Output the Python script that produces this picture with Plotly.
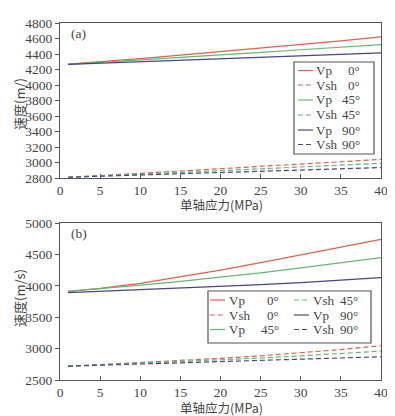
import plotly.graph_objects as go

x = [1, 5, 10, 15, 20, 25, 30, 35, 40]

# panel (a)
a_vp0 = [4270, 4300, 4340, 4385, 4430, 4475, 4525, 4570, 4620]
a_vsh0 = [2810, 2830, 2860, 2890, 2920, 2950, 2980, 3010, 3040]
a_vp45 = [4265, 4290, 4320, 4355, 4390, 4420, 4455, 4490, 4520]
a_vsh45 = [2810, 2825, 2850, 2870, 2895, 2920, 2945, 2965, 2990]
a_vp90 = [4265, 4280, 4300, 4320, 4340, 4360, 4380, 4400, 4415]
a_vsh90 = [2810, 2822, 2837, 2853, 2870, 2887, 2903, 2920, 2935]

# panel (b)
b_vp0 = [3910, 3960, 4040, 4140, 4250, 4370, 4490, 4610, 4740]
b_vsh0 = [2720, 2745, 2775, 2810, 2845, 2885, 2930, 2985, 3045]
b_vp45 = [3910, 3950, 4010, 4070, 4135, 4205, 4285, 4365, 4450]
b_vsh45 = [2720, 2740, 2765, 2790, 2820, 2850, 2885, 2920, 2960]
b_vp90 = [3890, 3910, 3935, 3960, 3990, 4020, 4050, 4090, 4130]
b_vsh90 = [2720, 2735, 2750, 2770, 2790, 2810, 2830, 2850, 2870]

wave = ["Vp", "Vsh", "Vp", "Vsh", "Vp", "Vsh"]
angle = ["0°", "0°", "45°", "45°", "90°", "90°"]
x_ticks = [0, 5, 10, 15, 20, 25, 30, 35, 40]

RED = "#e0604a"
GREEN = "#62b872"
BLUE = "#454588"
colors = [RED, RED, GREEN, GREEN, BLUE, BLUE]
DASH = "5px,3px"
dashes = ["solid", DASH] * 3
LW = 1.2

SERIF = "Liberation Serif"
CJK = "Noto Sans CJK SC"
AXC = "#555555"
TXT = "#444444"

# the page body has an 8px margin; size the figure to the remaining window
OFF = 8
W, H = 395 - OFF, 416 - OFF


def px(v):
    return (v - OFF) / W


def py(v):
    return 1 - (v - OFF) / H


fig = go.Figure()

a_data = [a_vp0, a_vsh0, a_vp45, a_vsh45, a_vp90, a_vsh90]
b_data = [b_vp0, b_vsh0, b_vp45, b_vsh45, b_vp90, b_vsh90]

for i, y in enumerate(a_data):
    fig.add_trace(go.Scatter(x=x, y=y, mode="lines", name=wave[i] + " " + angle[i],
                             line=dict(color=colors[i], dash=dashes[i], width=LW),
                             xaxis="x", yaxis="y", showlegend=False))
for i, y in enumerate(b_data):
    fig.add_trace(go.Scatter(x=x, y=y, mode="lines", name=wave[i] + " " + angle[i],
                             line=dict(color=colors[i], dash=dashes[i], width=LW),
                             xaxis="x2", yaxis="y2", showlegend=False))

xd = [px(60), px(381)]
ya = [py(178), py(23)]
yb = [py(380), py(223)]

axis_common = dict(showline=True, linecolor=AXC, linewidth=1.2, mirror=True,
                   showgrid=False, zeroline=False,
                   tickfont=dict(family=SERIF, size=13.5, color=TXT),
                   tickcolor=AXC, ticklen=4)

shapes = []
annotations = []
LEGFONT = dict(family=SERIF, size=13, color=TXT)


def legend_entry(i, x0, yc, xtext, xang):
    shapes.append(dict(type="line", xref="paper", yref="paper",
                       x0=px(x0), x1=px(x0 + 15), y0=py(yc), y1=py(yc),
                       line=dict(color=colors[i], width=LW, dash=dashes[i])))
    annotations.append(dict(text=wave[i], x=px(xtext), y=py(yc), xref="paper", yref="paper",
                            xanchor="left", yanchor="middle", showarrow=False,
                            font=LEGFONT))
    annotations.append(dict(text=angle[i], x=px(xang), y=py(yc), xref="paper", yref="paper",
                            xanchor="right", yanchor="middle", showarrow=False,
                            font=LEGFONT))


# legend (a) box
shapes.append(dict(type="rect", xref="paper", yref="paper",
                   x0=px(294), x1=px(374), y0=py(154), y1=py(62),
                   line=dict(color=AXC, width=1.2), fillcolor="white"))
rows_a = [70.5, 85, 100, 115, 130, 144.5]
for i in range(6):
    legend_entry(i, 298, rows_a[i], 314, 362)

# legend (b) box
shapes.append(dict(type="rect", xref="paper", yref="paper",
                   x0=px(208), x1=px(371), y0=py(343), y1=py(291),
                   line=dict(color=AXC, width=1.2), fillcolor="white"))
rows_b = [300, 315, 329.5]
for k in range(6):
    col, row = divmod(k, 3)
    if col == 0:
        legend_entry(k, 210, rows_b[row], 227, 281)
    else:
        legend_entry(k, 294, rows_b[row], 311, 360)

annotations += [
    dict(text="(a)", x=px(69), y=py(33), xref="paper", yref="paper",
         xanchor="left", yanchor="middle", showarrow=False,
         font=dict(family=SERIF, size=13.5, color=TXT)),
    dict(text="(b)", x=px(69), y=py(233), xref="paper", yref="paper",
         xanchor="left", yanchor="middle", showarrow=False,
         font=dict(family=SERIF, size=13.5, color=TXT)),
    dict(text="单轴应力(MPa)", x=px(221), y=py(204.5), xref="paper", yref="paper",
         xanchor="center", yanchor="middle", showarrow=False,
         font=dict(family=CJK, size=12.5, color=TXT)),
    dict(text="单轴应力(MPa)", x=px(221), y=py(407), xref="paper", yref="paper",
         xanchor="center", yanchor="middle", showarrow=False,
         font=dict(family=CJK, size=12.5, color=TXT)),
    dict(text="速度(m/)", x=px(19), y=py(104), xref="paper", yref="paper",
         xanchor="center", yanchor="middle", showarrow=False, textangle=-90,
         font=dict(family=CJK, size=13, color=TXT)),
    dict(text="速度(m/s)", x=px(19), y=py(298), xref="paper", yref="paper",
         xanchor="center", yanchor="middle", showarrow=False, textangle=-90,
         font=dict(family=CJK, size=13, color=TXT)),
]

fig.update_layout(
    width=W, height=H,
    margin=dict(l=0, r=0, t=0, b=0, autoexpand=False),
    paper_bgcolor="white", plot_bgcolor="white",
    showlegend=False,
    xaxis=dict(domain=xd, range=[0, 40], tickvals=x_ticks,
               anchor="y", ticks="inside", **axis_common),
    yaxis=dict(domain=ya, range=[2800, 4800], dtick=200, anchor="x", ticks="outside",
               **axis_common),
    xaxis2=dict(domain=xd, range=[0, 40], tickvals=x_ticks,
                anchor="y2", ticks="inside", **axis_common),
    yaxis2=dict(domain=yb, range=[2500, 5000], dtick=500, anchor="x2", ticks="outside",
                **axis_common),
    shapes=shapes,
    annotations=annotations,
)

fig.write_html("out.html")
